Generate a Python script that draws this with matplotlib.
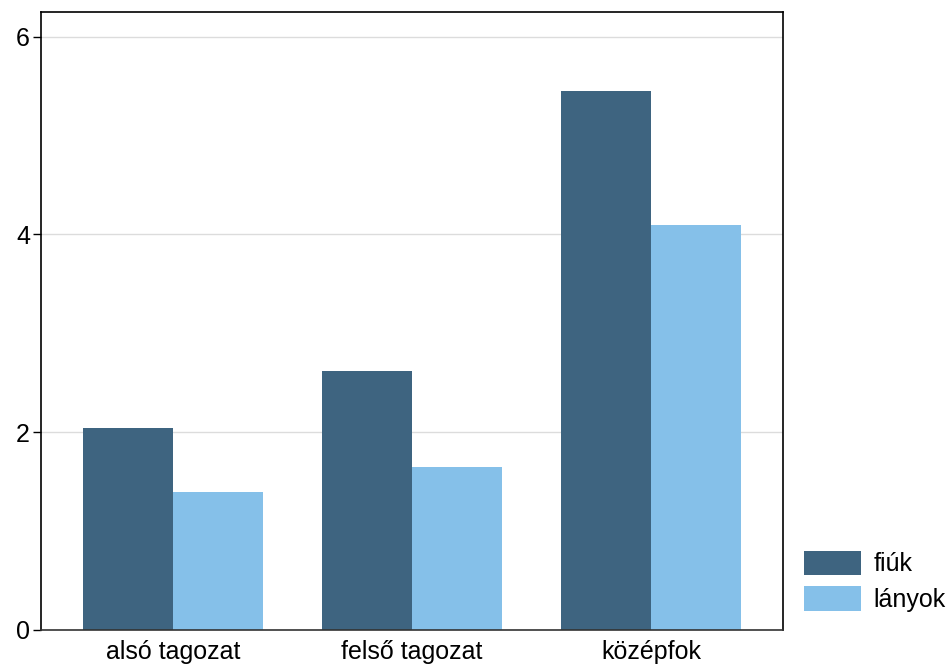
import matplotlib.pyplot as plt
import numpy as np

plt.rcParams['font.family'] = ['Liberation Sans', 'DejaVu Sans']

categories = ['alsó tagozat', 'felső tagozat', 'középfok']
series_names = ['fiúk', 'lányok']
fiuk = [2.04, 2.62, 5.45]
lanyok = [1.40, 1.65, 4.10]
yticks = [0, 2, 4, 6]

colors = ['#3e6480', '#85c0e9']

fig = plt.figure(figsize=(9.49, 6.68), dpi=100)
ax = fig.add_axes([0.0432, 0.0569, 0.7818, 0.9251])

x = np.arange(len(categories))
w = 0.376
ax.bar(x - w / 2, fiuk, w, color=colors[0], label=series_names[0], zorder=2)
ax.bar(x + w / 2, lanyok, w, color=colors[1], label=series_names[1], zorder=2)

ax.set_xlim(-0.552, 2.552)
ax.set_ylim(0, 6.25)
ax.set_yticks(yticks)
ax.set_xticks(x)
ax.set_xticklabels(categories)
ax.tick_params(axis='x', length=0, labelsize=18, pad=7)
ax.tick_params(axis='y', length=6, width=1, labelsize=18, pad=2)
ax.yaxis.grid(True, color='#dcdcdc', linewidth=1, zorder=0)

for s in ax.spines.values():
    s.set_linewidth(1.2)
    s.set_color('black')
ax.spines['bottom'].set_color('#333333')
ax.spines['bottom'].set_zorder(3)

ax.legend(loc='lower left', bbox_to_anchor=(1.015, 0.013), frameon=False,
          fontsize=18, handlelength=2.28, handleheight=1.12,
          handletextpad=0.5, labelspacing=0.4, borderaxespad=0)

fig.savefig('out.png', dpi=100)
